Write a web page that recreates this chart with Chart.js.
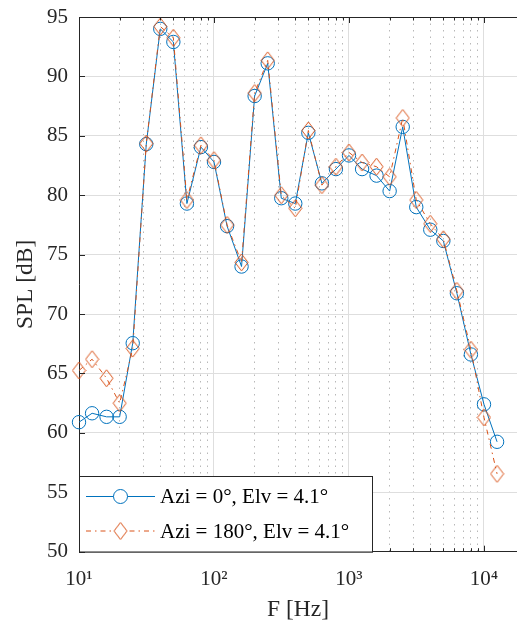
<!DOCTYPE html>
<html>
<head>
<meta charset="utf-8">
<script src="https://cdn.jsdelivr.net/npm/chart.js@4/dist/chart.umd.min.js"></script>
<style>
  html, body { margin: 0; padding: 0; background: #ffffff; }
  #wrap { width: 517px; height: 626px; position: relative; }
</style>
</head>
<body>
<div id="wrap"><canvas id="c" width="517" height="626"></canvas></div>
<script>
// ---- data ----
const frequencies = [10, 12.5, 16, 20, 25, 31.5, 40, 50, 63, 80, 100, 125, 160, 200, 250, 315, 400, 500, 630, 800, 1000, 1250, 1600, 2000, 2500, 3150, 4000, 5000, 6300, 8000, 10000, 12500];
const splAzi0 = [60.9, 61.65, 61.35, 61.35, 67.55, 84.3, 94.0, 92.9, 79.3, 84.05, 82.8, 77.4, 74.0, 88.35, 91.1, 79.75, 79.3, 85.25, 81.0, 82.2, 83.35, 82.2, 81.65, 80.35, 85.75, 79.0, 77.1, 76.15, 71.75, 66.6, 62.4, 59.25];
const splAzi180 = [65.25, 66.2, 64.6, 62.5, 67.1, 84.35, 94.2, 93.25, 79.6, 84.2, 82.95, 77.5, 74.35, 88.6, 91.35, 80.0, 78.9, 85.45, 80.85, 82.4, 83.6, 82.75, 82.4, 81.55, 86.5, 79.6, 77.6, 76.3, 71.95, 67.0, 61.3, 56.55];
const seriesLabels = ['Azi = 0°, Elv = 4.1°', 'Azi = 180°, Elv = 4.1°'];
const xDecades = [10, 100, 1000, 10000];
const xTickLabels = ['10¹', '10²', '10³', '10⁴'];
const yTicks = [50, 55, 60, 65, 70, 75, 80, 85, 90, 95];
const xTitle = 'F [Hz]';
const yTitle = 'SPL [dB]';

// ---- style ----
const BLUE = '#0072BD';
const ORANGE = '#D95319';
const AXIS = '#262626';
const SERIF = "'Liberation Serif', 'Times New Roman', serif";

function diamondCanvas(w, h, color) {
  const c = document.createElement('canvas');
  c.width = w + 2; c.height = h + 2;
  const g = c.getContext('2d');
  g.strokeStyle = color; g.lineWidth = 1;
  const cx = c.width / 2, cy = c.height / 2;
  g.beginPath();
  g.moveTo(cx, cy - h / 2); g.lineTo(cx + w / 2, cy); g.lineTo(cx, cy + h / 2); g.lineTo(cx - w / 2, cy); g.closePath();
  g.stroke();
  return c;
}
const diamond = diamondCanvas(13, 17, ORANGE);

const X_MIN = 10;
const X_MAX = 17560;
const isDecade = v => xDecades.some(d => Math.abs(d - v) < 1e-6);

const xTickValues = [];
for (const d of xDecades) for (let k = 1; k <= 9; k++) { const v = d * k; if (v <= X_MAX) xTickValues.push(v); }

const frameTicks = {
  id: 'frameTicks',
  afterDatasetsDraw(chart) {
    const {ctx, chartArea: a, scales: {x, y}} = chart;
    ctx.save();
    ctx.strokeStyle = AXIS; ctx.lineWidth = 1;
    ctx.beginPath(); ctx.moveTo(a.left, a.top + 0.5); ctx.lineTo(a.right, a.top + 0.5); ctx.stroke();
    ctx.beginPath();
    for (const t of x.ticks) {
      const px = Math.round(x.getPixelForValue(t.value)) + 0.5;
      const len = isDecade(t.value) ? 6 : 3.5;
      ctx.moveTo(px, a.top); ctx.lineTo(px, a.top + len);
      ctx.moveTo(px, a.bottom); ctx.lineTo(px, a.bottom - len);
    }
    for (const t of y.ticks) {
      const py = Math.round(y.getPixelForValue(t.value)) + 0.5;
      ctx.moveTo(a.left, py); ctx.lineTo(a.left + 6, py);
    }
    ctx.stroke();
    ctx.restore();
  }
};

const legendBox = {
  id: 'legendBox',
  afterDatasetsDraw(chart) {
    const {ctx, chartArea: a} = chart;
    const x0 = a.left, y0 = 476, x1 = 372.5, y1 = a.bottom;
    ctx.save();
    ctx.fillStyle = '#ffffff';
    ctx.fillRect(x0, y0, x1 - x0, y1 - y0);
    ctx.strokeStyle = AXIS; ctx.lineWidth = 1;
    ctx.strokeRect(x0 + 0.5, y0 + 0.5, x1 - x0 - 0.5, y1 - y0);
    const rows = [496.5, 531];
    seriesLabels.forEach((lab, i) => {
      const ds = chart.data.datasets.find(d => d.label === lab);
      const ry = rows[i];
      ctx.strokeStyle = ds.borderColor; ctx.lineWidth = ds.borderWidth;
      ctx.setLineDash(ds.borderDash || []);
      ctx.beginPath(); ctx.moveTo(86, ry); ctx.lineTo(155, ry); ctx.stroke();
      ctx.setLineDash([]);
      if (ds.pointStyle === 'circle') {
        ctx.fillStyle = '#ffffff';
        ctx.beginPath(); ctx.arc(120.5, ry, 7, 0, Math.PI * 2); ctx.fill(); ctx.stroke();
      } else {
        ctx.fillStyle = '#ffffff';
        ctx.fillRect(113, ry - 9, 15, 18);
        ctx.drawImage(ds.pointStyle, 120.5 - ds.pointStyle.width / 2, ry - ds.pointStyle.height / 2);
      }
      ctx.fillStyle = '#000000';
      ctx.font = '21px ' + SERIF;
      ctx.textBaseline = 'middle';
      ctx.textAlign = 'left';
      ctx.fillText(ds.label, 160, ry + 1);
    });
    ctx.restore();
  }
};

new Chart(document.getElementById('c'), {
  type: 'line',
  data: {
    datasets: [
      {
        label: seriesLabels[1],
        data: frequencies.map((f, i) => ({x: f, y: splAzi180[i]})),
        borderColor: ORANGE,
        borderWidth: 1,
        borderDash: [5, 4, 1.5, 4],
        pointStyle: diamond,
        pointRadius: 8,
        pointBorderColor: ORANGE,
        pointBackgroundColor: 'rgba(0,0,0,0)',
        fill: false,
        tension: 0,
        clip: false,
        order: 0
      },
      {
        label: seriesLabels[0],
        data: frequencies.map((f, i) => ({x: f, y: splAzi0[i]})),
        borderColor: BLUE,
        borderWidth: 1,
        pointStyle: 'circle',
        pointRadius: 6.7,
        pointBorderWidth: 1,
        pointBorderColor: BLUE,
        pointBackgroundColor: 'rgba(0,0,0,0)',
        fill: false,
        tension: 0,
        clip: false,
        order: 1
      }
    ]
  },
  options: {
    responsive: false,
    animation: false,
    devicePixelRatio: 1,
    layout: { autoPadding: false, padding: { left: 0, right: 0, top: 17, bottom: 0 } },
    plugins: { legend: { display: false }, tooltip: { enabled: false } },
    scales: {
      x: {
        type: 'logarithmic',
        min: X_MIN,
        max: X_MAX,
        afterBuildTicks: s => { s.ticks = xTickValues.map(v => ({value: v, major: isDecade(v)})); },
        afterFit: s => { s.height = 74.3; s.paddingLeft = 0; s.paddingRight = 0; },
        ticks: {
          autoSkip: false,
          maxRotation: 0,
          minRotation: 0,
          padding: 15,
          color: AXIS,
          font: { family: SERIF, size: 21 },
          callback: v => { const i = xDecades.findIndex(d => Math.abs(d - v) < 1e-6); return i >= 0 ? xTickLabels[i] : ''; }
        },
        grid: {
          drawTicks: false,
          color: c => (c.tick && isDecade(c.tick.value)) ? '#dedede' : '#b8b8b8',
          lineWidth: 1
        },
        border: {
          display: true,
          color: AXIS,
          width: 1,
          dash: c => (c.tick && !isDecade(c.tick.value)) ? [1.5, 5] : []
        },
        title: {
          display: true,
          text: xTitle,
          color: AXIS,
          font: { family: SERIF, size: 23.5 },
          padding: { top: 0, bottom: 2 }
        }
      },
      y: {
        type: 'linear',
        min: 50,
        max: 95,
        afterBuildTicks: s => { s.ticks = yTicks.map(v => ({value: v})); },
        afterFit: s => { s.width = 79; s.paddingTop = 0; s.paddingBottom = 0; },
        ticks: {
          padding: 11,
          color: AXIS,
          font: { family: SERIF, size: 21 }
        },
        grid: { drawTicks: false, color: '#dedede', lineWidth: 1 },
        border: { display: true, color: AXIS, width: 1 },
        title: {
          display: true,
          text: yTitle,
          color: AXIS,
          font: { family: SERIF, size: 23.5 },
          padding: { top: 12, bottom: 0 }
        }
      }
    }
  },
  plugins: [frameTicks, legendBox]
});
</script>
</body>
</html>
